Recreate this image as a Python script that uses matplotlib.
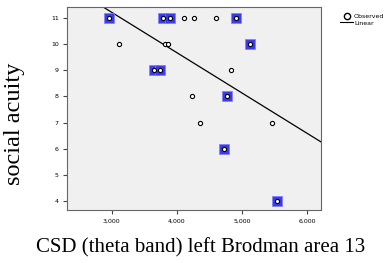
import matplotlib.pyplot as plt
from matplotlib.lines import Line2D

# CSD values and social acuity scores
open_x = [4103, 4257, 4605, 3117, 3820, 3861, 4826, 4226, 4354, 5452]
open_y = [11, 11, 11, 10, 10, 10, 9, 8, 7, 7]
boxed_x = [2963, 3778, 3886, 4913, 5118, 3640, 3738, 4774, 4718, 5538]
boxed_y = [11, 11, 11, 11, 10, 9, 9, 8, 6, 4]

# linear fit
intercept = 15.84
slope = -0.001542

xticks = [3000, 4000, 5000, 6000]
xticklabels = ['3,000', '4,000', '5,000', '6,000']
yticks = [4, 5, 6, 7, 8, 9, 10, 11]

fig = plt.figure(figsize=(3.89, 2.63), dpi=100)
ax = fig.add_axes([67 / 389, 1 - 210 / 263, 254 / 389, 203 / 263])
ax.set_facecolor('#f0f0f1')

xlo, xhi = 2312, 6211
ax.set_xlim(xlo, xhi)
ax.set_ylim(3.66, 11.42)

ax.plot([xlo, xhi], [intercept + slope * xlo, intercept + slope * xhi],
        color='black', linewidth=0.9, zorder=2)

ax.scatter(boxed_x, boxed_y, marker='s', s=42, color='#3a3af0',
           edgecolor='#8080ff', linewidth=0.5, zorder=3)
ax.scatter(boxed_x, boxed_y, marker='o', s=9, facecolor='white',
           edgecolor='black', linewidth=0.8, zorder=4)
ax.scatter(open_x, open_y, marker='o', s=9, facecolor='white',
           edgecolor='black', linewidth=0.8, zorder=4)

ax.set_xticks(xticks)
ax.set_xticklabels(xticklabels)
ax.set_yticks(yticks)
ax.tick_params(labelsize=4.5, length=3, width=0.8, color='#444444', pad=3)
for s in ax.spines.values():
    s.set_color('#666666')
    s.set_linewidth(0.8)

fig.text(201 / 389, 1 - 248 / 263, 'CSD (theta band) left Brodman area 13',
         family='Liberation Serif', fontsize=15, ha='center', va='center')
fig.text(15 / 389, 1 - 124 / 263, 'social acuity', family='Liberation Serif',
         fontsize=17.5, rotation=90, ha='center', va='center')

handles = [Line2D([], [], marker='o', linestyle='none', markerfacecolor='white',
                  markeredgecolor='black', markersize=4.5),
           Line2D([], [], color='black', linewidth=0.8)]
fig.legend(handles, ['Observed', 'Linear'], loc='upper left',
           bbox_to_anchor=(334 / 389, 1 - 8 / 263), frameon=False,
           fontsize=4.5, handlelength=2.2, handletextpad=0.1, labelspacing=0.2)

fig.savefig('out.png', dpi=100)
